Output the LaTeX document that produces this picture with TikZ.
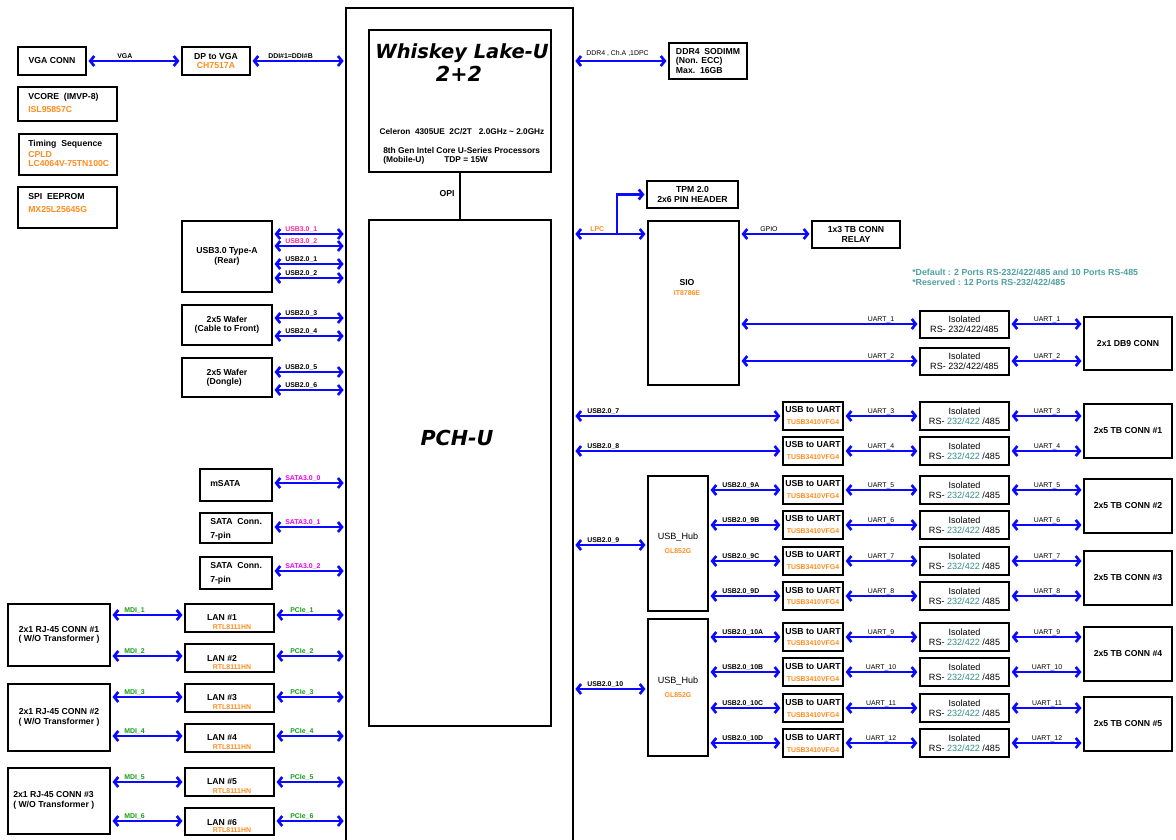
\documentclass[tikz,border=0pt]{standalone}
\usepackage{fontspec}
\setmainfont{Liberation Sans}
\newfontfamily\titlefont{DejaVu Sans}
\usetikzlibrary{arrows.meta}
\definecolor{orgC}{RGB}{255,140,30}
\definecolor{tealC}{RGB}{50,140,140}
\definecolor{noteC}{RGB}{80,160,160}
\definecolor{pinkC}{RGB}{255,40,150}
\definecolor{magC}{RGB}{235,0,235}
\definecolor{grnC}{RGB}{20,160,20}
\definecolor{arrC}{RGB}{10,10,255}
\newcommand\bxfont{\fontsize{6.5}{7}\selectfont\bfseries}
\newcommand\isofont{\fontsize{6.8}{7.5}\selectfont}
\newcommand\lbfont{\fontsize{5.2}{6}\selectfont\bfseries}
\newcommand\smfont{\fontsize{5.2}{6}\selectfont\bfseries}
\newcounter{lbn}
\newcommand\mkbox[7][]{%
  \pgfmathsetmacro\bxcx{((#3)+(#5))/2}%
  \pgfmathsetmacro\bxcy{((#4)+(#6))/2}%
  \pgfmathsetmacro\bxw{((#5)-(#3))*0.75}%
  \pgfmathsetmacro\bxh{((#6)-(#4))*0.75}%
  \node[box,minimum width=\bxw pt,minimum height=\bxh pt,#1] (#2) at (\bxcx,\bxcy) {#7};}
\newcommand\lab[4][]{\stepcounter{lbn}\node[lbl,#1] (lab\arabic{lbn}) at (#2,#3) {#4};}
\begin{document}
\begin{tikzpicture}[x=0.75pt,y=-0.75pt,
  box/.style={draw,line width=1.8pt,inner sep=0pt,align=center,font=\bxfont},
  txt/.style={inner sep=0pt,font=\bxfont},
  lbl/.style={inner sep=0pt,anchor=base west,font=\lbfont},
  arr/.style={draw=arrC,line width=2pt,>={Straight Barb[length=3pt,width=7.5pt]},<->,shorten <=1pt,shorten >=1pt},
  arrone/.style={draw=arrC,line width=2pt,>={Straight Barb[length=3pt,width=7.5pt]},->,shorten >=1pt}]
\useasboundingbox (0,0) rectangle (1176,839);
\clip (0,0) rectangle (1176,839);
\fill[white] (0,0) rectangle (1176,839);

% ---------- CPU block ----------
\mkbox[line width=1.5pt]{cpu}{346}{8}{573}{900}{}
\mkbox[line width=1.6pt]{wl}{369}{30}{551}{172}{}
\mkbox[line width=1.6pt]{pch}{369}{220}{551}{726}{}
\node[inner sep=0pt,font={\titlefont\fontsize{14.6}{15}\selectfont\bfseries\itshape}] (wlT) at (462,53) {Whiskey Lake-U};
\node[inner sep=0pt,font={\titlefont\fontsize{15.5}{15}\selectfont\bfseries\itshape}] (wlN) at (459,74) {2+2};
\node[txt,font=\fontsize{6.2}{7}\selectfont\bfseries] (wlC) at (462,132) {Celeron\ \ 4305UE\ \ 2C/2T\ \ \ 2.0GHz \textasciitilde{} 2.0GHz};
\node[txt,anchor=west,font=\fontsize{6.3}{7}\selectfont\bfseries] (wlG) at (383,150) {8th Gen Intel Core U-Series Processors};
\node[txt,anchor=west,font=\fontsize{6.3}{7}\selectfont\bfseries] (wlM) at (383,160) {(Mobile-U)};
\node[txt,anchor=west,font=\fontsize{6.3}{7}\selectfont\bfseries] (wlP) at (444,160) {TDP = 15W};
\node[inner sep=0pt,font={\titlefont\fontsize{15.5}{15}\selectfont\bfseries\itshape}] (pchT) at (457,438) {PCH-U};
\draw[line width=1.6pt] (wl.south) -- (pch.north);
\node[txt] (opi) at (447,194) {OPI};

% ---------- left column ----------
\mkbox{vga}{18}{47}{86}{75}{VGA CONN}
\mkbox{dp}{182}{47}{250}{75}{DP to VGA\\\textcolor{orgC}{CH7517A}}
\mkbox{vcore}{18}{87}{117}{121}{}
\node[txt,anchor=west] (vcoreA) at (28,97) {VCORE\ \ (IMVP-8)};
\node[txt,anchor=west,text=orgC] (vcoreB) at (28,110) {ISL95857C};
\mkbox{tim}{19}{134}{117}{175}{}
\node[txt,anchor=west] (timA) at (28,144) {Timing\ \ Sequence};
\node[txt,anchor=west,text=orgC] (timB) at (28,155) {CPLD};
\node[txt,anchor=west,text=orgC] (timC) at (28,164) {LC4064V-75TN100C};
\mkbox{spi}{18}{187}{117}{228}{}
\node[txt,anchor=west] (spiA) at (28,197) {SPI\ \ EEPROM};
\node[txt,anchor=west,text=orgC] (spiB) at (28,210) {MX25L25645G};

\mkbox{usbA}{182}{221}{272}{292}{USB3.0 Type-A\\(Rear)}
\mkbox{wafF}{182}{305}{272}{345}{2x5 Wafer\\(Cable to Front)}
\mkbox[align=left]{wafD}{182}{358}{272}{397}{2x5 Wafer\\(Dongle)}
\mkbox{msata}{200}{469}{272}{501}{}
\node[txt,anchor=west] (msataT) at (210,484) {mSATA};
\mkbox{sata1}{200}{513}{272}{543}{}
\node[txt,anchor=west] (sata1A) at (210,522) {SATA\ \ Conn.};
\node[txt,anchor=west] (sata1B) at (210,536) {7-pin};
\mkbox{sata2}{200}{557}{272}{589}{}
\node[txt,anchor=west] (sata2A) at (210,566) {SATA\ \ Conn.};
\node[txt,anchor=west] (sata2B) at (210,580) {7-pin};

\foreach \n/\ya/\yb in {1/604/632,2/644/672,3/684/712,4/724/752,5/768/796,6/808/835}{
  \mkbox{lan\n}{185}{\ya}{274}{\yb}{}
  \node[txt] (lanT\n) at (222,\ya+14) {LAN \#\n};
  \node[txt,font=\smfont,text=orgC] (lanR\n) at (232,\yb-5) {RTL8111HN};
}
\mkbox{rj1}{8}{604}{110}{666}{2x1 RJ-45 CONN \#1\\( W/O Transformer )}
\mkbox{rj2}{8}{684}{110}{751}{2x1 RJ-45 CONN \#2\\( W/O Transformer )}
\mkbox[align=left]{rj3}{8}{768}{110}{834}{}
\node[txt,anchor=west,align=left] (rj3T) at (13,800.5) {2x1 RJ-45 CONN \#3\\( W/O Transformer )};

% left connectors
\draw[arr] (vga.east) -- (dp.west);
\lab{117}{58}{VGA}
\draw[arr] (dp.east) -- (cpu.west |- dp.east);
\lab{268}{58}{DDI\#1=DDI\#B}
\foreach \yy/\nm/\tx/\cl in {234/usbA/USB3.0\_1/pinkC,246/usbA/USB3.0\_2/pinkC,264/usbA/USB2.0\_1/black,278/usbA/USB2.0\_2/black,318/wafF/USB2.0\_3/black,336/wafF/USB2.0\_4/black,372/wafD/USB2.0\_5/black,390/wafD/USB2.0\_6/black,483/msata/SATA3.0\_0/magC,527/sata1/SATA3.0\_1/magC,571/sata2/SATA3.0\_2/magC}{
  \draw[arr] (\nm.east |- 0,\yy) -- (cpu.west |- 0,\yy);
  \lab[text=\cl]{285}{\yy-2.5}{\tx}
}
\foreach \n/\r/\yy in {1/1/615,2/1/656,3/2/697,4/2/736,5/3/782,6/3/821}{
  \draw[arr] (rj\r.east |- 0,\yy) -- (lan\n.west |- 0,\yy);
  \lab[text=grnC]{124}{\yy-2.5}{MDI\_\n}
  \draw[arr] (lan\n.east |- 0,\yy) -- (cpu.west |- 0,\yy);
  \lab[text=grnC]{290}{\yy-2.5}{PCIe\_\n}
}

% ---------- right column ----------
\mkbox[align=left]{ddr}{669}{43}{747}{79}{DDR4\ \ SODIMM\\(Non. ECC)\\Max.\ \ 16GB}
\draw[arr] (cpu.east |- 0,61) -- (ddr.west |- 0,61);
\lab[font=\fontsize{5.2}{6}\selectfont]{586}{55}{DDR4 , Ch.A ,1DPC}

\mkbox{tpm}{647}{181}{738}{208}{TPM 2.0\\2x6 PIN HEADER}
\mkbox{sio}{648}{221}{739}{385}{}
\node[txt] (sioT) at (687,283) {SIO};
\node[txt,font=\smfont,text=orgC] (sioR) at (687,293) {IT8786E};
\mkbox{relay}{812}{221}{900}{248}{1x3 TB CONN\\RELAY}
\coordinate (lpcj) at (617,234);
\draw[arr] (cpu.east |- 0,234) -- (sio.west |- 0,234);
\draw[arrone] (lpcj) |- (tpm.west);
\lab[text=orgC]{590}{231}{LPC}
\draw[arr] (sio.east |- 0,234) -- (relay.west |- 0,234);
\lab[font=\fontsize{5.2}{6}\selectfont]{760}{231}{GPIO}
\node[inner sep=0pt,anchor=base west,text=noteC,font=\fontsize{6.6}{7}\selectfont\bfseries] (note1) at (912,275) {*Default : 2 Ports RS-232/422/485 and 10 Ports RS-485};
\node[inner sep=0pt,anchor=base west,text=noteC,font=\fontsize{6.6}{7}\selectfont\bfseries] (note2) at (912,285) {*Reserved : 12 Ports RS-232/422/485};

\mkbox[font=\isofont]{iso1}{920}{311}{1009}{338}{Isolated\\RS-\ 232/422/485}
\mkbox[font=\isofont]{iso2}{920}{348}{1009}{375}{Isolated\\RS-\ 232/422/485}
\mkbox{db9}{1084}{317}{1172}{370}{2x1 DB9 CONN}
\foreach \k/\yy in {1/324,2/361}{
  \draw[arr] (sio.east |- 0,\yy) -- (iso\k.west |- 0,\yy);
  \lab[anchor=base,font=\fontsize{5.2}{6}\selectfont]{881}{\yy-3}{UART\_\k}
  \draw[arr] (iso\k.east |- 0,\yy) -- (db9.west |- 0,\yy);
  \lab[anchor=base,font=\fontsize{5.2}{6}\selectfont]{1047}{\yy-3}{UART\_\k}
}

\mkbox{tb1}{1084}{404}{1172}{458}{2x5 TB CONN \#1}
\mkbox{tb2}{1084}{479}{1172}{533}{2x5 TB CONN \#2}
\mkbox{tb3}{1084}{551}{1172}{605}{2x5 TB CONN \#3}
\mkbox{tb4}{1084}{627}{1172}{681}{2x5 TB CONN \#4}
\mkbox{tb5}{1084}{697}{1172}{751}{2x5 TB CONN \#5}
\mkbox[font=\isofont]{hub1}{648}{476}{708}{611}{USB\_Hub\\[3pt]{\smfont\color{orgC}GL852G}}
\mkbox[font=\isofont]{hub2}{648}{619}{708}{756}{USB\_Hub\\[3pt]{\smfont\color{orgC}GL852G}}

\foreach \k/\yy/\tb in {3/416/1,4/451/1,5/490/2,6/525/2,7/561/3,8/596/3,9/637/4,10/672/4,11/708/5,12/743/5}{
  \mkbox[line width=2pt]{u\k}{783}{\yy-14}{843}{\yy+14}{USB to UART\\[2pt]{\smfont\color{orgC}TUSB3410VFG4}}
  \mkbox[line width=2pt,font=\isofont]{iso\k}{920}{\yy-14}{1009}{\yy+14}{Isolated\\RS-\ \textcolor{tealC}{232/422}\ /485}
  \draw[arr] (u\k.east |- 0,\yy) -- (iso\k.west |- 0,\yy);
  \lab[anchor=base,font=\fontsize{5.2}{6}\selectfont]{881}{\yy-3}{UART\_\k}
  \draw[arr] (iso\k.east |- 0,\yy) -- (tb\tb.west |- 0,\yy);
  \lab[anchor=base,font=\fontsize{5.2}{6}\selectfont]{1047}{\yy-3}{UART\_\k}
}
\draw[arr] (cpu.east |- 0,416) -- (u3.west |- 0,416);
\lab{587}{413}{USB2.0\_7}
\draw[arr] (cpu.east |- 0,451) -- (u4.west |- 0,451);
\lab{587}{448}{USB2.0\_8}
\draw[arr] (cpu.east |- 0,545) -- (hub1.west |- 0,545);
\lab{587}{542}{USB2.0\_9}
\draw[arr] (cpu.east |- 0,689) -- (hub2.west |- 0,689);
\lab{587}{686}{USB2.0\_10}
\foreach \k/\yy/\h/\t in {5/490/1/9A,6/525/1/9B,7/561/1/9C,8/596/1/9D,9/637/2/10A,10/672/2/10B,11/708/2/10C,12/743/2/10D}{
  \draw[arr] (hub\h.east |- 0,\yy) -- (u\k.west |- 0,\yy);
  \lab{722}{\yy-3}{USB2.0\_\t}
}
\end{tikzpicture}
\end{document}
